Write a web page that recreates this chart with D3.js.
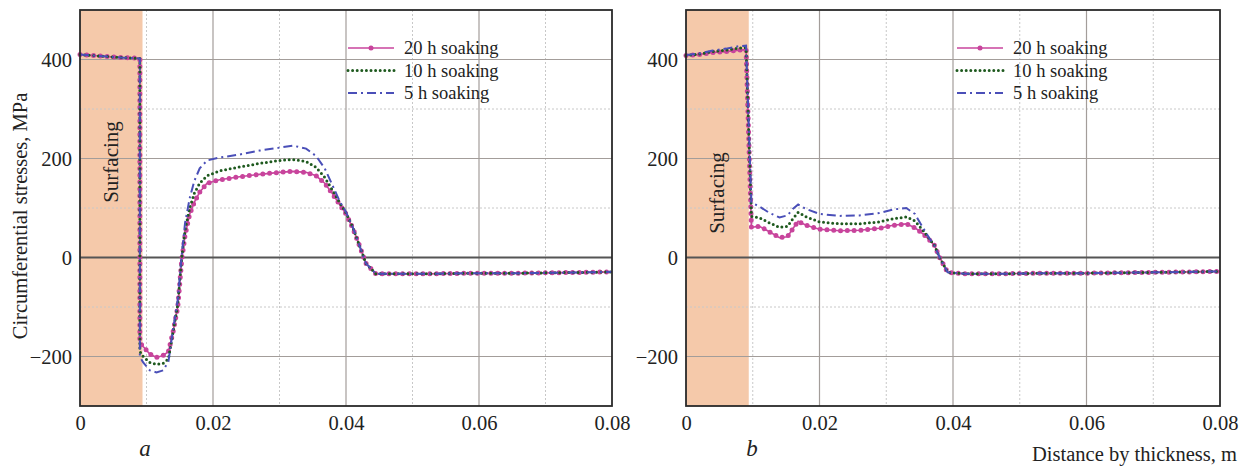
<!DOCTYPE html>
<html>
<head>
<meta charset="utf-8">
<script src="https://cdn.jsdelivr.net/npm/d3@7"></script>
<style>
  body { margin: 0; background: #fff; }
  text { font-family: "Liberation Serif", "DejaVu Serif", serif; fill: #222; }
</style>
</head>
<body>
<script>
// panel a: distance by thickness (m)
var xA = [0, 0.002, 0.004, 0.006, 0.008, 0.009, 0.009, 0.0095, 0.0105, 0.0115, 0.0125, 0.0133,
  0.014, 0.0147, 0.0153, 0.0158, 0.0165, 0.0172, 0.018, 0.0191, 0.021, 0.024, 0.027, 0.030,
  0.032, 0.034, 0.0355, 0.0368, 0.038, 0.039, 0.040, 0.041, 0.042, 0.043, 0.0445, 0.047,
  0.052, 0.058, 0.064, 0.070, 0.076, 0.080];
var a20 = [410, 408, 406, 404, 403, 402, -172, -180, -195, -202, -198, -190,
  -150, -100, -5, 45, 88, 112, 132, 150, 157, 163, 168, 172,
  174, 172, 165, 150, 128, 108, 88, 60, 25, -12, -33, -33,
  -33, -32, -32, -31, -30, -29];
var a10 = [410, 408, 406, 404, 403, 402, -190, -200, -212, -216, -214, -205,
  -150, -95, 0, 55, 100, 130, 150, 165, 175, 183, 190, 196,
  198, 194, 182, 162, 135, 112, 90, 62, 25, -12, -33, -33,
  -33, -32, -32, -31, -30, -29];
var a5 = [410, 408, 406, 404, 403, 402, -200, -212, -228, -232, -228, -210,
  -145, -85, 5, 70, 120, 155, 180, 196, 202, 208, 216, 222,
  226, 220, 205, 180, 145, 115, 92, 62, 25, -12, -33, -33,
  -33, -32, -32, -31, -30, -29];

// panel b
var xB = [0, 0.002, 0.004, 0.006, 0.008, 0.009, 0.0098, 0.011, 0.0125, 0.014, 0.0152, 0.016,
  0.0168, 0.018, 0.020, 0.023, 0.026, 0.029, 0.031, 0.033, 0.0343, 0.0355, 0.0365, 0.0372,
  0.038, 0.0392, 0.042, 0.046, 0.052, 0.058, 0.064, 0.070, 0.076, 0.080];
var b20 = [408, 410, 414, 416, 419, 420, 61, 63, 52, 40, 42, 58,
  73, 65, 57, 54, 55, 59, 65, 68, 60, 48, 35, 25,
  0, -30, -33, -33, -32, -32, -31, -30, -29, -28];
var b10 = [408, 411, 416, 419, 423, 424, 83, 80, 70, 61, 63, 78,
  91, 82, 72, 68, 68, 72, 78, 82, 74, 55, 37, 25,
  0, -30, -33, -33, -32, -32, -31, -30, -29, -28];
var b5 = [409, 412, 418, 422, 427, 428, 111, 103, 90, 81, 85, 98,
  107, 98, 88, 84, 85, 90, 97, 100, 88, 60, 38, 25,
  0, -30, -33, -33, -32, -32, -31, -30, -29, -28];

var xTicks = [0, 0.02, 0.04, 0.06, 0.08];
var yTicks = [-200, 0, 200, 400];
var legendNames = ["20 h soaking", "10 h soaking", "5 h soaking"];
var surfacingEnd = 0.0094;

var W = 1247, H = 466;
var svg = d3.select("body").append("svg").attr("width", W).attr("height", H);

var styles = [
  {color: "#c8449c", width: 1.6, dash: null, dots: true},
  {color: "#1f5a1f", width: 3, dash: "0 4.6", dots: false},
  {color: "#4a4fb8", width: 2, dash: "9 4 2 4", dots: false}
];

function drawPanel(left, right, xs, series, surfLabelY, legX) {
  var x = d3.scaleLinear().domain([0, 0.08]).range([left, right]);
  var y = d3.scaleLinear().domain([-300, 500]).range([406, 10]);
  var g = svg.append("g");

  // surfacing zone
  g.append("rect")
    .attr("x", x(0)).attr("y", y(500))
    .attr("width", x(surfacingEnd) - x(0)).attr("height", y(-300) - y(500))
    .attr("fill", "#f5c9aa");

  // minor grid
  d3.range(0.01, 0.08, 0.02).forEach(function(v) {
    g.append("line").attr("x1", x(v)).attr("x2", x(v)).attr("y1", y(500)).attr("y2", y(-300))
      .attr("stroke", "#c8c8c8").attr("stroke-width", 1).attr("stroke-dasharray", "2 2");
  });
  [-100, 100, 300].forEach(function(v) {
    g.append("line").attr("x1", x(0)).attr("x2", x(0.08)).attr("y1", y(v)).attr("y2", y(v))
      .attr("stroke", "#c8c8c8").attr("stroke-width", 1).attr("stroke-dasharray", "2 2");
  });
  // major grid
  xTicks.slice(1, -1).forEach(function(v) {
    g.append("line").attr("x1", x(v)).attr("x2", x(v)).attr("y1", y(500)).attr("y2", y(-300))
      .attr("stroke", "#a39d9a").attr("stroke-width", 1.2);
  });
  yTicks.forEach(function(v) {
    g.append("line").attr("x1", x(0)).attr("x2", x(0.08)).attr("y1", y(v)).attr("y2", y(v))
      .attr("stroke", v === 0 ? "#555" : "#a39d9a").attr("stroke-width", v === 0 ? 1.8 : 1.2);
  });

  // surfacing label
  g.append("text")
    .attr("transform", "translate(" + (x(surfacingEnd / 2) + 7) + "," + surfLabelY + ") rotate(-90)")
    .attr("text-anchor", "middle").attr("font-size", 21).text("Surfacing");

  // curves, 20 h underneath, then 10 h, then 5 h
  var line = d3.line().x(function(d) { return x(d[0]); }).y(function(d) { return y(d[1]); });
  [0, 1, 2].forEach(function(i) {
    var pts = xs.map(function(v, k) { return [v, series[i][k]]; });
    var s = styles[i];
    g.append("path").attr("d", line(pts)).attr("fill", "none")
      .attr("stroke", s.color).attr("stroke-width", s.width)
      .attr("stroke-linecap", s.dash && s.dash[0] === "0" ? "round" : "butt")
      .attr("stroke-dasharray", s.dash);
    if (s.dots) {
      g.append("path").attr("d", line(pts)).attr("fill", "none")
        .attr("stroke", s.color).attr("stroke-width", 5)
        .attr("stroke-linecap", "round").attr("stroke-dasharray", "0 6.8");
    }
  });

  // frame
  g.append("rect").attr("x", x(0)).attr("y", y(500))
    .attr("width", x(0.08) - x(0)).attr("height", y(-300) - y(500))
    .attr("fill", "none").attr("stroke", "#2a2a2a").attr("stroke-width", 1.8);

  // axes labels
  var xAxis = d3.axisBottom(x).tickValues(xTicks).tickSize(0).tickPadding(9)
    .tickFormat(function(d) { return d === 0 ? "0" : d3.format(".2f")(d); });
  var ax = g.append("g").attr("transform", "translate(0," + y(-300) + ")").call(xAxis);
  ax.select(".domain").remove();
  ax.selectAll("text").attr("font-size", 20.5).attr("font-family", "Liberation Serif").attr("fill", "#222");

  var yAxis = d3.axisLeft(y).tickValues(yTicks).tickSize(0).tickPadding(8)
    .tickFormat(function(d) { return d < 0 ? "\u2212" + Math.abs(d) : d; });
  var ay = g.append("g").attr("transform", "translate(" + x(0) + ",0)").call(yAxis);
  ay.select(".domain").remove();
  ay.selectAll("text").attr("font-size", 20.5).attr("font-family", "Liberation Serif").attr("fill", "#222");

  // legend
  legendNames.forEach(function(name, i) {
    var ly = 48 + i * 22.5;
    var s = styles[i];
    g.append("line").attr("x1", legX).attr("x2", legX + 46).attr("y1", ly).attr("y2", ly)
      .attr("stroke", s.color).attr("stroke-width", s.width)
      .attr("stroke-linecap", s.dash && s.dash[0] === "0" ? "round" : "butt")
      .attr("stroke-dasharray", s.dash);
    if (s.dots) {
      g.append("circle").attr("cx", legX + 23).attr("cy", ly).attr("r", 2.5).attr("fill", s.color);
    }
    g.append("text").attr("x", legX + 56).attr("y", ly + 6).attr("font-size", 18.5).text(name);
  });
}

drawPanel(80, 612, xA, [a20, a10, a5], 162, 348);
drawPanel(686, 1220, xB, [b20, b10, b5], 193, 957);

// titles
svg.append("text").attr("transform", "translate(27,216) rotate(-90)")
  .attr("text-anchor", "middle").attr("font-size", 20.5).text("Circumferential stresses, MPa");
svg.append("text").attr("x", 145).attr("y", 456).attr("text-anchor", "middle")
  .attr("font-size", 23).attr("font-style", "italic").text("a");
svg.append("text").attr("x", 752).attr("y", 456).attr("text-anchor", "middle")
  .attr("font-size", 23).attr("font-style", "italic").text("b");
svg.append("text").attr("x", 1237).attr("y", 461).attr("text-anchor", "end")
  .attr("font-size", 20.5).text("Distance by thickness, m");
</script>
</body>
</html>
